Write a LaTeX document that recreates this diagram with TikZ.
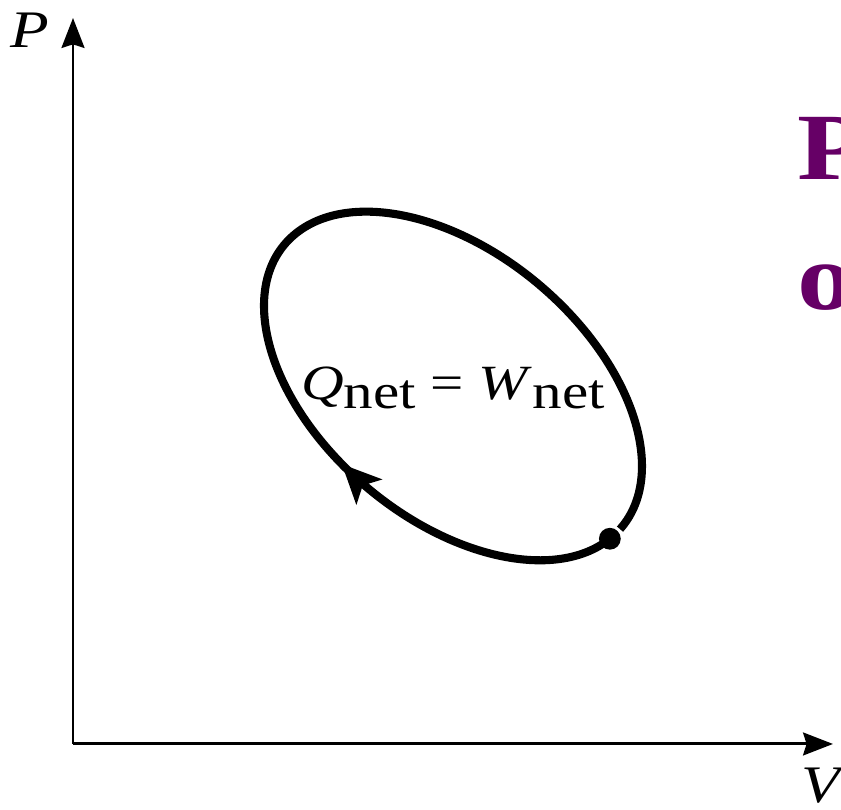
\documentclass[tikz,border=0pt]{standalone}
\usepackage{fontspec}
\setmainfont[FakeStretch=1.2]{Liberation Serif}
\usetikzlibrary{arrows.meta,decorations.markings}
\definecolor{plum}{RGB}{102,0,102}
\newcommand{\lowsub}[1]{\raisebox{-2.8pt}{#1}}

\begin{document}
\begin{tikzpicture}[x=0.01cm, y=0.01cm,
    axis/.style={line width=0.85pt, -{Stealth[length=8.5pt, width=6.5pt, inset=1pt]}},
    cyclepath/.style={line width=2.3pt, postaction={decorate}, decoration={markings,
        mark=at position 0.27 with {\arrow{Stealth[length=11pt, width=10pt, inset=2.5pt]}}}},
    lbl/.style={font=\fontsize{15}{18}\selectfont\itshape, inner sep=0pt},
    eqn/.style={font=\fontsize{14}{16}\selectfont, inner sep=0pt},
    dot/.style={circle, fill, inner sep=0pt, minimum size=6.2pt},
    title/.style={font=\fontsize{27}{30}\selectfont\bfseries, text=plum, inner sep=0pt, anchor=base west}
  ]
    \useasboundingbox (0,0) rectangle (841,810);
    \clip (0,0) rectangle (841,810);

    \coordinate (O) at (73,66);
    \coordinate (ptop) at (73,792);
    \coordinate (vend) at (833,66);
    \draw[axis] (O) -- (ptop);
    \draw[axis] (O) -- (vend);
    \node[lbl] (plabel) at (30,780) {P};
    \node[lbl] (vlabel) at (821,24) {V};

    \begin{scope}[shift={(453,424)}, rotate=-40]
      \draw[cyclepath] (-7:220 and 133) arc[start angle=-7, end angle=-361, x radius=220, y radius=133];
      \node[dot] (start) at (-7:220 and 133) {};
    \end{scope}
    \node[eqn] (qw) at (453,422) {\textit{Q}\lowsub{net} = \textit{W}\lowsub{net}};

    \node[title] (tp) at (797,630) {P};
    \node[title] (to) at (797,500) {o};
  \end{tikzpicture}
\end{document}
